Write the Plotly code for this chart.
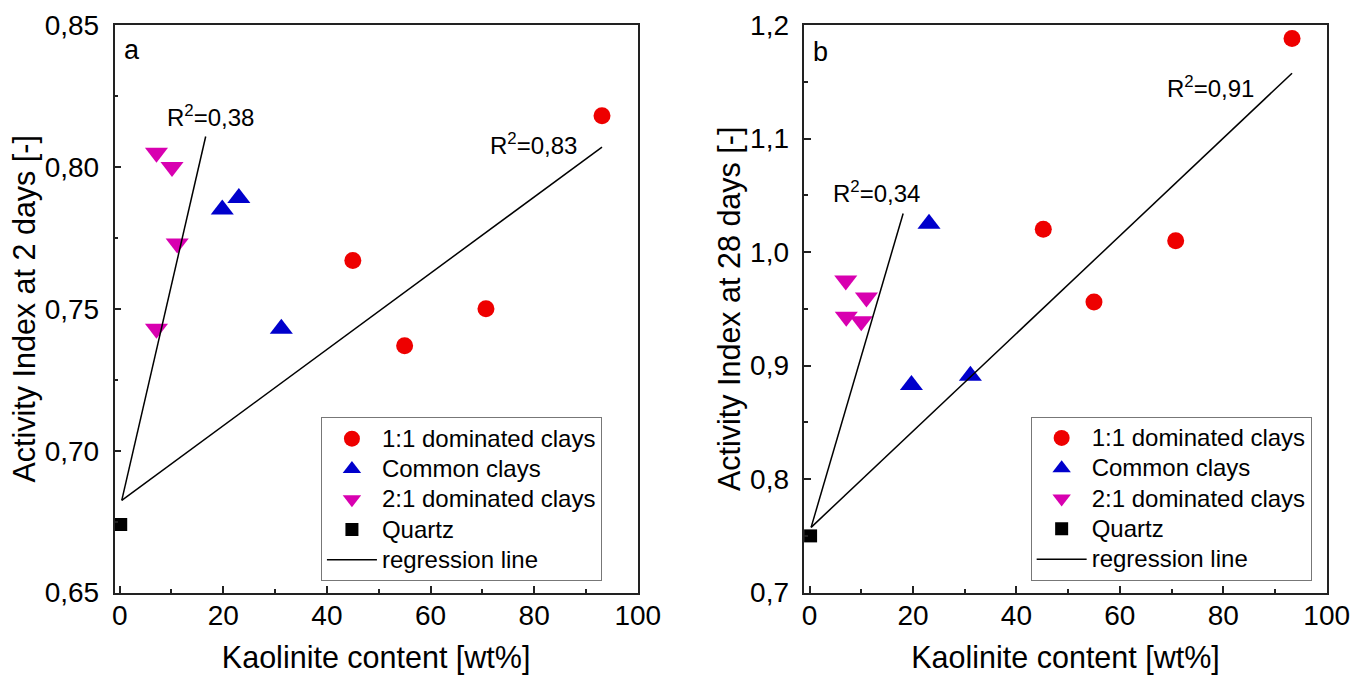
import plotly.graph_objects as go

# ---------------- data ----------------
# Panel a: Activity index at 2 days
a_11_x = [45, 55, 70.7, 93.1]
a_11_y = [0.767, 0.737, 0.750, 0.818]
a_common_x = [19.8, 23.0, 31.2]
a_common_y = [0.785, 0.789, 0.743]
a_21_x = [7.1, 10.1, 11.1, 7.1]
a_21_y = [0.805, 0.800, 0.773, 0.743]
a_quartz_x = [0.2]
a_quartz_y = [0.674]
a_reg1_x = [0.4, 93.1]
a_reg1_y = [0.6825, 0.807]
a_reg2_x = [0.4, 16.6]
a_reg2_y = [0.6825, 0.8107]

# Panel b: Activity index at 28 days
b_11_x = [45.2, 55.0, 70.8, 93.3]
b_11_y = [1.020, 0.956, 1.010, 1.188]
b_common_x = [19.7, 23.1, 31.1]
b_common_y = [0.883, 1.025, 0.891]
b_21_x = [7.0, 11.0, 7.1, 10.0]
b_21_y = [0.975, 0.960, 0.943, 0.939]
b_quartz_x = [0.2]
b_quartz_y = [0.750]
b_reg1_x = [0.3, 93.3]
b_reg1_y = [0.7575, 1.1575]
b_reg2_x = [0.3, 18.1]
b_reg2_y = [0.7575, 1.034]

x_tickvals = [0, 20, 40, 60, 80, 100]
x_ticktext = ["0", "20", "40", "60", "80", "100"]
ya_tickvals = [0.65, 0.70, 0.75, 0.80, 0.85]
ya_ticktext = ["0,65", "0,70", "0,75", "0,80", "0,85"]
yb_tickvals = [0.7, 0.8, 0.9, 1.0, 1.1, 1.2]
yb_ticktext = ["0,7", "0,8", "0,9", "1,0", "1,1", "1,2"]

names = ["1:1 dominated clays", "Common clays", "2:1 dominated clays", "Quartz", "regression line"]

RED = "#EE0000"
BLUE = "#0000CC"
MAG = "#D800B0"
FONT = "Arial, Liberation Sans, sans-serif"

def lg(n):
    # legend label: slightly larger glyphs while keeping compact row spacing
    return '<span style="font-size:24px">' + n + '</span>'

fig = go.Figure()

def add_panel(xa, ya, leg, d11, dco, d21, dq, r1, r2):
    fig.add_trace(go.Scatter(x=d11[0], y=d11[1], mode="markers", name=lg(names[0]),
                             marker=dict(symbol="circle", size=17, color=RED),
                             xaxis=xa, yaxis=ya, legend=leg, cliponaxis=False))
    fig.add_trace(go.Scatter(x=dco[0], y=dco[1], mode="markers", name=lg(names[1]),
                             marker=dict(symbol="triangle-up", size=20, color=BLUE),
                             xaxis=xa, yaxis=ya, legend=leg, cliponaxis=False))
    fig.add_trace(go.Scatter(x=d21[0], y=d21[1], mode="markers", name=lg(names[2]),
                             marker=dict(symbol="triangle-down", size=20, color=MAG),
                             xaxis=xa, yaxis=ya, legend=leg, cliponaxis=False))
    fig.add_trace(go.Scatter(x=dq[0], y=dq[1], mode="markers", name=lg(names[3]),
                             marker=dict(symbol="square", size=13, color="black"),
                             xaxis=xa, yaxis=ya, legend=leg, cliponaxis=False))
    fig.add_trace(go.Scatter(x=r1[0], y=r1[1], mode="lines", name=lg(names[4]),
                             line=dict(color="black", width=1.5),
                             xaxis=xa, yaxis=ya, legend=leg))
    fig.add_trace(go.Scatter(x=r2[0], y=r2[1], mode="lines", name=lg(names[4]),
                             line=dict(color="black", width=1.5), showlegend=False,
                             xaxis=xa, yaxis=ya, legend=leg))

add_panel("x", "y", "legend", (a_11_x, a_11_y), (a_common_x, a_common_y),
          (a_21_x, a_21_y), (a_quartz_x, a_quartz_y), (a_reg1_x, a_reg1_y), (a_reg2_x, a_reg2_y))
add_panel("x2", "y2", "legend2", (b_11_x, b_11_y), (b_common_x, b_common_y),
          (b_21_x, b_21_y), (b_quartz_x, b_quartz_y), (b_reg1_x, b_reg1_y), (b_reg2_x, b_reg2_y))

axis_common = dict(showline=True, linecolor="#222", linewidth=1.5, mirror=True,
                   ticks="inside", ticklen=7, tickwidth=1.5, tickcolor="#222",
                   showgrid=False, zeroline=False, automargin=False,
                   tickfont=dict(family=FONT, size=28, color="black"))

xa_common = dict(axis_common, tickvals=x_tickvals, ticktext=x_ticktext, range=[-1, 100],
                 ticklabelstandoff=-3,
                 minor=dict(ticks="inside", ticklen=4, tickwidth=1.5, tickcolor="#222", dtick=10, tick0=0),
                 title=dict(text="Kaolinite content [wt%]", font=dict(family=FONT, size=30.5, color="black"),
                            standoff=26))

legend_common = dict(xanchor="left", yanchor="top", bgcolor="white",
                     bordercolor="#777", borderwidth=1, font=dict(family=FONT, size=21, color="black"),
                     itemwidth=50, tracegroupgap=0)

fig.update_layout(
    width=1368, height=675,
    margin=dict(l=0, r=0, t=0, b=0, autoexpand=False),
    paper_bgcolor="white", plot_bgcolor="white",
    font=dict(family=FONT, color="black"),
    xaxis=dict(xa_common, domain=[0.0837, 0.4662], anchor="y"),
    xaxis2=dict(xa_common, domain=[0.588, 0.9698], anchor="y2"),
    yaxis=dict(axis_common, domain=[0.122, 0.963], anchor="x", range=[0.65, 0.85],
               ticklabelstandoff=8,
               tickvals=ya_tickvals, ticktext=ya_ticktext,
               minor=dict(ticks="inside", ticklen=4, tickwidth=1.5, tickcolor="#222", dtick=0.025, tick0=0.65),
               title=dict(text="Activity Index at 2 days [-]", font=dict(family=FONT, size=30.5, color="black"),
                          standoff=0)),
    yaxis2=dict(axis_common, domain=[0.122, 0.963], anchor="x2", range=[0.7, 1.2],
                ticklabelstandoff=8,
                tickvals=yb_tickvals, ticktext=yb_ticktext,
                minor=dict(ticks="inside", ticklen=4, tickwidth=1.5, tickcolor="#222", dtick=0.05, tick0=0.7),
                title=dict(text="Activity Index at 28 days [-]", font=dict(family=FONT, size=30.5, color="black"),
                           standoff=0)),
    legend=dict(legend_common, x=0.2346, y=0.3815),
    legend2=dict(legend_common, x=0.7534, y=0.3825),
    showlegend=True,
)

ann_font = dict(family=FONT, size=24, color="black")
fig.add_annotation(x=2.4, y=0.8412, xref="x", yref="y", text="a", showarrow=False,
                   font=dict(family=FONT, size=27, color="black"))
fig.add_annotation(x=17.5, y=0.818, xref="x", yref="y", text="R<sup>2</sup>=0,38", showarrow=False, font=ann_font)
fig.add_annotation(x=79.9, y=0.808, xref="x", yref="y", text="R<sup>2</sup>=0,83", showarrow=False, font=ann_font)
fig.add_annotation(x=2.1, y=1.1765, xref="x2", yref="y2", text="b", showarrow=False,
                   font=dict(family=FONT, size=27, color="black"))
fig.add_annotation(x=12.95, y=1.053, xref="x2", yref="y2", text="R<sup>2</sup>=0,34", showarrow=False, font=ann_font)
fig.add_annotation(x=77.6, y=1.145, xref="x2", yref="y2", text="R<sup>2</sup>=0,91", showarrow=False, font=ann_font)

fig.write_html("out.html")
